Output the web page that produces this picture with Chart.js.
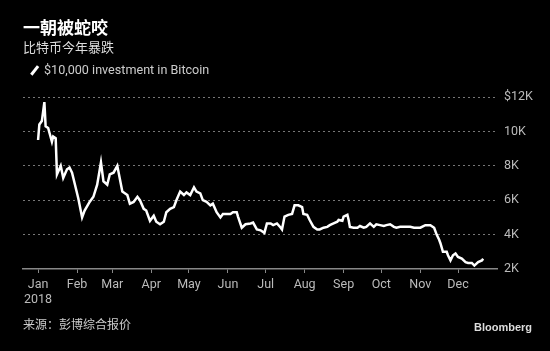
<!DOCTYPE html>
<html>
<head>
<meta charset="utf-8">
<script src="https://cdn.jsdelivr.net/npm/chart.js@4"></script>
<style>
  body { margin: 0; background: #000; }
  #wrap { position: relative; width: 550px; height: 351px; background: #000; overflow: hidden; font-family: Roboto, "Noto Sans CJK SC", sans-serif; }
  #chart { position: absolute; left: 0; top: 0; }
  .txt { position: absolute; white-space: nowrap; }
  #title { left: 23px; top: 14px; font-size: 17px; font-weight: bold; color: #fff; font-family: "Noto Sans CJK SC", sans-serif; }
  #subtitle { left: 23px; top: 37px; font-size: 13px; color: #ddd; font-family: "Noto Sans CJK SC", sans-serif; }
  #legend { left: 44px; top: 62px; font-size: 12.6px; color: #ccc; }
  #legendIcon { position: absolute; left: 29px; top: 69px; width: 11px; height: 2.5px; background: #fff; transform: rotate(-52deg); }
  #source { left: 23px; top: 315px; font-size: 12px; color: #ccc; font-family: "Noto Sans CJK SC", sans-serif; }
  #logo { left: 474px; top: 321px; font-size: 11px; font-weight: bold; color: #ddd; font-family: "Liberation Sans", sans-serif; }
</style>
</head>
<body>
<div id="wrap">
  <canvas id="chart" width="550" height="351"></canvas>
  <div class="txt" id="title">一朝被蛇咬</div>
  <div class="txt" id="subtitle">比特币今年暴跌</div>
  <div id="legendIcon"></div>
  <div class="txt" id="legend">$10,000 investment in Bitcoin</div>
  <div class="txt" id="source">来源：彭博综合报价</div>
  <div class="txt" id="logo">Bloomberg</div>
</div>
<script>
// Day of year 2018 (0 = Jan 1) and value of a $10,000 investment, in $K
const days = [0, 1, 3, 5, 6, 8, 11, 12, 14, 15, 18, 20, 23, 25, 27, 29, 32, 35, 37, 41,
  44, 47, 50, 52, 55, 57, 60, 63, 67, 71, 73, 76, 79, 81, 84, 86, 89, 92, 94, 97,
  100, 102, 105, 108, 110, 113, 116, 118, 121, 124, 126, 129, 131, 134, 137, 139, 142, 145, 147, 150,
  153, 155, 158, 159, 162, 165, 169, 171, 174, 177, 180, 182, 185, 187, 190, 193, 194, 196, 199, 202,
  204, 207, 210, 211, 214, 216, 219, 222, 224, 227, 230, 232, 235, 238, 239, 242, 243, 246, 247, 248,
  251, 254, 256, 259, 261, 264, 267, 269, 272, 275, 277, 280, 283, 285, 288, 291, 293, 296, 299, 301,
  304, 308, 312, 315, 317, 319, 320, 322, 325, 326, 328, 330, 332, 334, 337, 340, 342, 345, 347, 350,
  353, 354];
const values = [9.5, 10.4, 10.6, 11.7, 10.3, 10.2, 9.4, 9.7, 9.6, 7.5, 8.0, 7.3, 7.8, 7.9, 7.6, 7.0, 6.1, 5.0, 5.4, 5.9,
  6.2, 6.9, 8.2, 7.1, 6.9, 7.5, 7.6, 8.0, 6.5, 6.3, 5.8, 5.9, 6.2, 6.0, 5.5, 5.4, 4.8, 5.1, 4.75, 4.6,
  4.75, 5.3, 5.5, 5.6, 6.0, 6.5, 6.3, 6.45, 6.3, 6.75, 6.5, 6.4, 6.0, 5.9, 5.7, 5.8, 5.3, 5.0, 5.2, 5.2,
  5.2, 5.3, 5.3, 5.05, 4.4, 4.6, 4.65, 4.7, 4.3, 4.25, 4.1, 4.65, 4.65, 4.55, 4.65, 4.4, 4.3, 5.05, 5.15, 5.2,
  5.7, 5.7, 5.6, 5.2, 5.15, 4.85, 4.45, 4.3, 4.3, 4.4, 4.45, 4.55, 4.65, 4.75, 4.85, 4.8, 5.05, 5.15, 4.85, 4.45,
  4.4, 4.4, 4.5, 4.4, 4.45, 4.65, 4.45, 4.6, 4.55, 4.5, 4.55, 4.6, 4.45, 4.4, 4.45, 4.45, 4.45, 4.45, 4.4, 4.4,
  4.4, 4.55, 4.55, 4.4, 4.0, 3.7, 3.5, 3.0, 3.0, 2.8, 2.5, 2.8, 2.9, 2.7, 2.6, 2.4, 2.35, 2.35, 2.2, 2.4,
  2.5, 2.6];

// Axis ticks
const monthStarts = [0, 31, 59, 90, 120, 151, 181, 212, 243, 273, 304, 334];
const monthLabels = ["Jan", "Feb", "Mar", "Apr", "May", "Jun", "Jul", "Aug", "Sep", "Oct", "Nov", "Dec"];
const yearLabel = "2018";
const yTicks = [2, 4, 6, 8, 10, 12];

const points = days.map((d, i) => ({ x: d, y: values[i] }));
const labelFont = { family: "Roboto, sans-serif", size: 12.5 };

new Chart(document.getElementById("chart"), {
  type: "line",
  data: {
    datasets: [{
      data: points,
      borderColor: "#fff",
      borderWidth: 2.5,
      pointRadius: 0,
      tension: 0,
      fill: false,
    }],
  },
  options: {
    responsive: false,
    animation: false,
    layout: { padding: { top: 97, left: 23, right: 0, bottom: 0 } },
    plugins: { legend: { display: false }, tooltip: { enabled: false } },
    scales: {
      x: {
        type: "linear",
        min: -12,
        max: 365,
        afterBuildTicks: (axis) => { axis.ticks = monthStarts.map((v) => ({ value: v })); },
        afterFit: (axis) => { axis.height = 82; },
        grid: { drawOnChartArea: false, drawTicks: true, tickLength: 4, color: "#888" },
        border: { display: true, color: "#888", width: 1.5 },
        ticks: {
          color: "#bbb",
          font: labelFont,
          padding: 4,
          autoSkip: false,
          maxRotation: 0,
          callback: (v, i) => (i === 0 ? [monthLabels[0], yearLabel] : monthLabels[i]),
        },
      },
      y: {
        position: "right",
        min: 2,
        max: 12,
        afterBuildTicks: (axis) => { axis.ticks = yTicks.map((v) => ({ value: v })); },
        afterFit: (axis) => { axis.width = 53; },
        grid: {
          drawTicks: false,
          color: (ctx) => (ctx.tick && ctx.tick.value === 2 ? "rgba(0,0,0,0)" : "#777"),
          lineWidth: 1,
        },
        border: { display: false, dash: [2, 3] },
        ticks: {
          color: "#bbb",
          font: labelFont,
          padding: 7,
          callback: (v) => (v === 12 ? "$12K" : v + "K"),
        },
      },
    },
  },
});
</script>
</body>
</html>
